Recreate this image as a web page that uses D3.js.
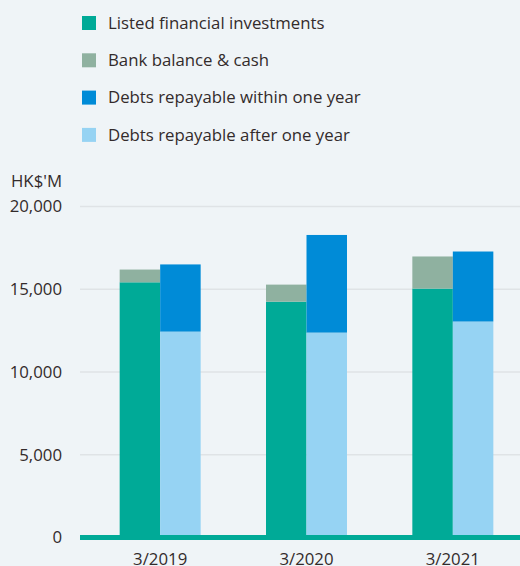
<!DOCTYPE html>
<html>
<head>
<meta charset="utf-8">
<script src="https://cdn.jsdelivr.net/npm/d3@7"></script>
<style>
  body { margin: 0; background: #eff4f7; }
  svg { display: block; font-family: "Open Sans", sans-serif; }
</style>
</head>
<body>
<div id="chart"></div>
<script>
const categories = ['3/2019', '3/2020', '3/2021'];
const listedInvestments = [15420, 14250, 15040];
const bankCash = [770, 1030, 1940];
const debtsAfterOneYear = [12440, 12380, 13050];
const debtsWithinOneYear = [4060, 5900, 4230];
const yTicks = [0, 5000, 10000, 15000, 20000];

const legendItems = [
  { label: 'Listed financial investments', color: '#00aa97' },
  { label: 'Bank balance & cash', color: '#8fb1a0' },
  { label: 'Debts repayable within one year', color: '#008bd7' },
  { label: 'Debts repayable after one year', color: '#96d3f3' }
];

const width = 520, height = 566;
const fontSize = '16.8px';
const textColor = '#332b2b';

const svg = d3.select('#chart').append('svg')
  .attr('width', width)
  .attr('height', height);

// Scales
const x = d3.scaleBand().domain(categories).range([87, 526]);
const y = d3.scaleLinear().domain([0, 20000]).range([537.5, 206.5]);
const barW = 40.5;

// Grid lines
svg.append('g')
  .selectAll('line')
  .data(yTicks.filter(t => t > 0))
  .enter()
  .append('line')
  .attr('x1', 80).attr('x2', width)
  .attr('y1', d => y(d)).attr('y2', d => y(d))
  .attr('stroke', '#dfe3e6')
  .attr('stroke-width', 1.3);

// Tick labels
svg.append('g')
  .selectAll('text')
  .data(yTicks)
  .enter()
  .append('text')
  .attr('x', 62)
  .attr('y', d => y(d))
  .attr('dy', '0.35em')
  .attr('text-anchor', 'end')
  .style('font-size', fontSize)
  .style('fill', textColor)
  .text(d => d3.format(',')(d));

svg.append('text')
  .attr('x', 11)
  .attr('y', 181)
  .attr('dy', '0.35em')
  .style('font-size', fontSize)
  .style('fill', textColor)
  .text("HK$'M");

// Left stacks: investments + bank cash; right stacks: debts
const leftStack = categories.map((c, i) => ({ c, a: listedInvestments[i], b: bankCash[i] }));
const rightStack = categories.map((c, i) => ({ c, a: debtsAfterOneYear[i], b: debtsWithinOneYear[i] }));

const bars = svg.append('g');
function drawStack(data, offset, colA, colB) {
  bars.selectAll(null)
    .data(data)
    .enter()
    .append('rect')
    .attr('x', d => x.bandwidth() / 2 + x(d.c) + offset)
    .attr('width', barW)
    .attr('y', d => y(d.a))
    .attr('height', d => y(0) - y(d.a))
    .attr('fill', colA);
  bars.selectAll(null)
    .data(data)
    .enter()
    .append('rect')
    .attr('x', d => x.bandwidth() / 2 + x(d.c) + offset)
    .attr('width', barW)
    .attr('y', d => y(d.a + d.b))
    .attr('height', d => y(d.a) - y(d.a + d.b))
    .attr('fill', colB);
}
drawStack(leftStack, -barW, legendItems[0].color, legendItems[1].color);
drawStack(rightStack, 0, legendItems[3].color, legendItems[2].color);

// Baseline
svg.append('rect')
  .attr('x', 80)
  .attr('y', y(0) - 2.5)
  .attr('width', width - 80)
  .attr('height', 5)
  .attr('fill', '#00aa97');

// Category labels (cut at the bottom edge, as in the source)
svg.append('g')
  .selectAll('text')
  .data(categories)
  .enter()
  .append('text')
  .attr('x', d => x(d) + x.bandwidth() / 2)
  .attr('y', 559)
  .attr('dy', '0.35em')
  .attr('text-anchor', 'middle')
  .style('font-size', fontSize)
  .style('fill', textColor)
  .text(d => d);

// Legend
const legend = svg.append('g')
  .selectAll('g')
  .data(legendItems)
  .enter()
  .append('g')
  .attr('transform', (d, i) => `translate(82,${23 + i * 37.3})`);

legend.append('rect')
  .attr('x', 0).attr('y', -7)
  .attr('width', 14).attr('height', 14)
  .attr('fill', d => d.color);

legend.append('text')
  .attr('x', 26)
  .attr('dy', '0.35em')
  .style('font-size', fontSize)
  .style('fill', textColor)
  .text(d => d.label);
</script>
</body>
</html>
